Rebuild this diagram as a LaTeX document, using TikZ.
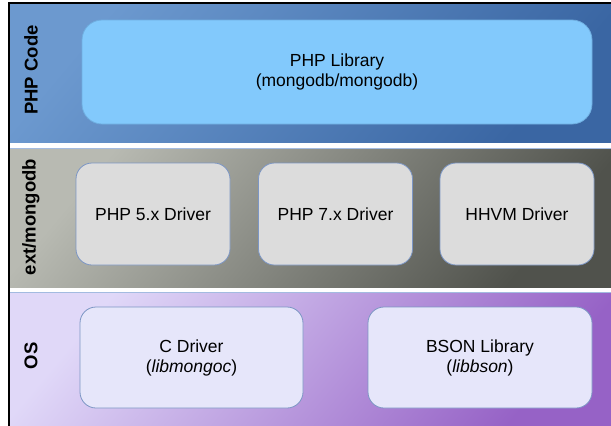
\documentclass[tikz,border=0pt]{standalone}
\usepackage{fontspec}
\setmainfont{Liberation Sans}
\definecolor{codetop}{HTML}{6C99CF}
\definecolor{codebot}{HTML}{3A66A3}
\definecolor{exttop}{HTML}{B8BAB2}
\definecolor{extbot}{HTML}{50524C}
\definecolor{ostop}{HTML}{E0D8F8}
\definecolor{osbot}{HTML}{9662C6}
\definecolor{libfill}{HTML}{82C9FC}
\definecolor{libline}{HTML}{6FAEE0}
\definecolor{drvfill}{HTML}{DCDCDC}
\definecolor{osfill}{HTML}{E6E6FA}
\definecolor{boxline}{HTML}{7C96C4}
\definecolor{sepline}{HTML}{A3BBE0}

\begin{document}
\begin{tikzpicture}[x=1pt,y=-1pt,box/.style={draw=boxline,line width=0.8pt,rounded corners=16pt,align=center,inner sep=0pt,font=\fontsize{17.5}{20}\selectfont},tag/.style={rotate=90,font=\fontsize{18.5}{22}\selectfont\bfseries}]
			
			\useasboundingbox (0,0) rectangle (611,426);
			\fill[white] (0,0) rectangle (611,426);
			
			% layers
			\shade[top color=codetop,bottom color=codebot,shading angle=50] (10,4) rectangle (611,142);
			\shade[top color=exttop,bottom color=extbot,shading angle=50] (10,148) rectangle (611,287);
			\shade[top color=ostop,bottom color=osbot,shading angle=50] (10,292) rectangle (611,426);
			\draw[sepline,line width=1pt] (10,148.5) -- (611,148.5);
			\draw[sepline,line width=1pt] (10,292) -- (611,292);
			\draw[line width=2pt] (9,426) -- (9,3) -- (611,3);
			
			\node[tag] (code) at (31,70) {PHP Code};
			\node[tag] (ext) at (31,217) {ext/mongodb};
			\node[tag] (os) at (31,356) {OS};
			
			\node[box,draw=libline,fill=libfill,minimum width=510pt,minimum height=104pt,rounded corners=20pt] (lib) at (337,72) {PHP Library\\(mongodb/mongodb)};
			
			\node[box,fill=drvfill,minimum width=154pt,minimum height=102pt] (php5) at (153,214) {PHP 5.x Driver};
			\node[box,fill=drvfill,minimum width=154pt,minimum height=102pt] (php7) at (335.5,214) {PHP 7.x Driver};
			\node[box,fill=drvfill,minimum width=154pt,minimum height=102pt] (hhvm) at (517,214) {HHVM Driver};
			
			\node[box,fill=osfill,minimum width=223pt,minimum height=101pt] (cdrv) at (191.5,357.5) {C Driver\\(\textit{libmongoc})};
			\node[box,fill=osfill,minimum width=224pt,minimum height=101pt] (bson) at (480,357.5) {BSON Library\\(\textit{libbson})};
			\end{tikzpicture}
\end{document}
